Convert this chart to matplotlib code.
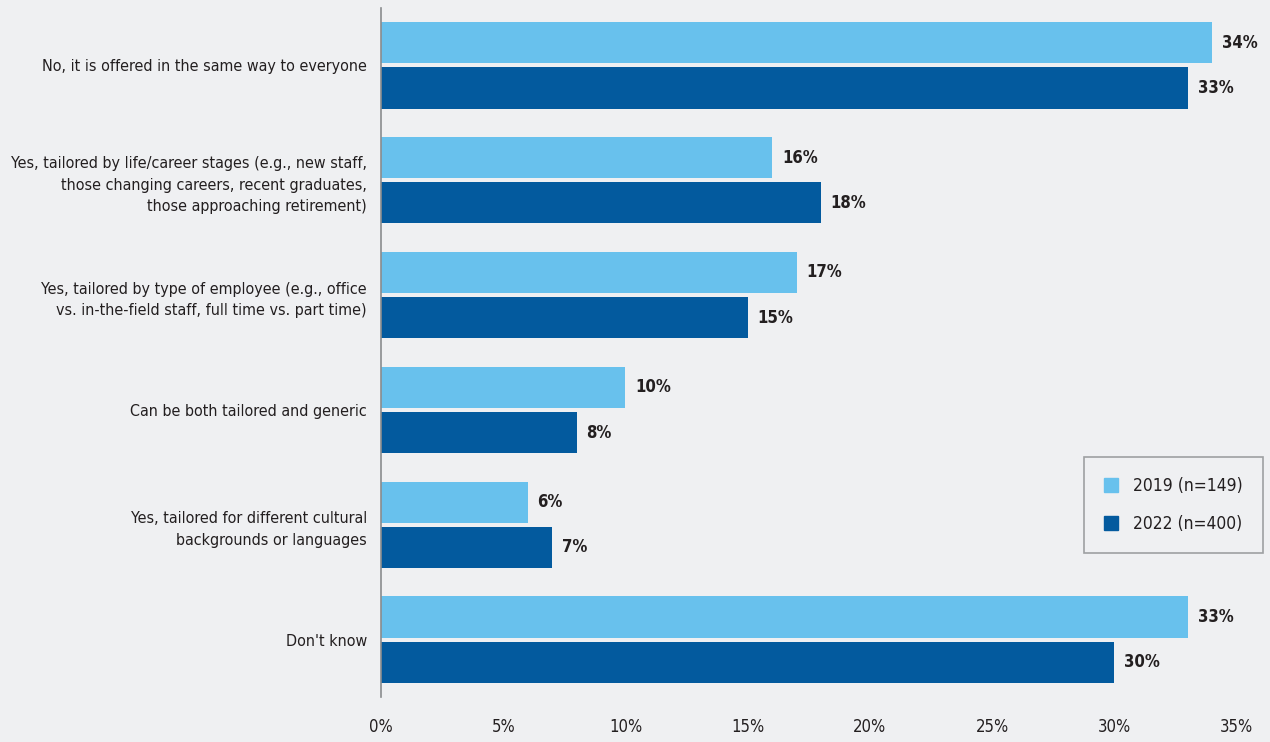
import matplotlib.pyplot as plt
import numpy as np
from matplotlib.patches import Patch

plt.rcParams['font.family'] = ['DejaVu Sans']
plt.rcParams['font.stretch'] = 'condensed'

categories = [
    'No, it is offered in the same way to everyone',
    'Yes, tailored by life/career stages (e.g., new staff,\nthose changing careers, recent graduates,\nthose approaching retirement)',
    'Yes, tailored by type of employee (e.g., office\nvs. in-the-field staff, full time vs. part time)',
    'Can be both tailored and generic',
    'Yes, tailored for different cultural\nbackgrounds or languages',
    "Don't know",
]
vals_2019 = [34, 16, 17, 10, 6, 33]
vals_2022 = [33, 18, 15, 8, 7, 30]
series_labels = ['2019 (n=149)', '2022 (n=400)']
xticks = [0, 5, 10, 15, 20, 25, 30, 35]

bg = '#eff0f2'
light = '#68c1ed'
dark = '#035a9e'
txt = '#231f20'

fig = plt.figure(figsize=(12.7, 7.42), dpi=100, facecolor=bg)
ax = fig.add_axes([0.3, 0.0606, 0.6738, 0.9286], facecolor=bg)

y = np.arange(len(categories))
h = 0.358
off = 0.197
b1 = ax.barh(y - off, vals_2019, height=h, color=light)
b2 = ax.barh(y + off, vals_2022, height=h, color=dark)

# value labels to the right of each bar
for bars, vals in [(b1, vals_2019), (b2, vals_2022)]:
    for bar, v in zip(bars, vals):
        ax.annotate(f'{v}%', xy=(v, bar.get_y() + bar.get_height() / 2),
                    xytext=(7, 0), textcoords='offset points',
                    ha='left', va='center', fontsize=12, fontweight='bold', color=txt)

ax.set_xlim(0, 35)
ax.set_ylim(5.5, -0.5)
ax.set_yticks(y)
ax.set_yticklabels(categories, fontsize=11.5, color=txt, linespacing=1.55)
ax.set_xticks(xticks)
ax.set_xticklabels([f'{t}%' for t in xticks], fontsize=12, color=txt)
ax.tick_params(axis='both', length=0)
ax.tick_params(axis='y', pad=10)
ax.tick_params(axis='x', pad=15)

for side in ['top', 'right', 'bottom']:
    ax.spines[side].set_visible(False)
ax.spines['left'].set_color('#8a8c8e')
ax.spines['left'].set_linewidth(1.2)

handles = [Patch(color=light), Patch(color=dark)]
leg = ax.legend(handles, series_labels, loc='lower right', bbox_to_anchor=(1.0307, 0.209),
                borderaxespad=0, fontsize=12.5, frameon=True, fancybox=False, handlelength=0.8,
                handleheight=0.8, labelspacing=1.15, borderpad=1.15, handletextpad=0.9)
leg.get_frame().set_edgecolor('#8a8c8e')
leg.get_frame().set_facecolor(bg)
leg.get_frame().set_linewidth(1.2)
for t in leg.get_texts():
    t.set_color(txt)

fig.savefig('out.png', dpi=100, facecolor=bg)
